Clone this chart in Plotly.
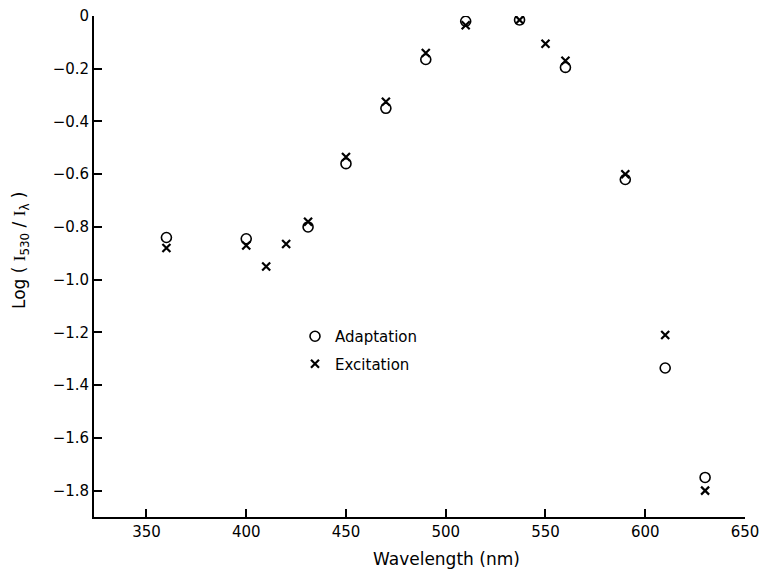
import plotly.graph_objects as go

# Data
wavelength_adapt = [360, 400, 431, 450, 470, 490, 510, 537, 560, 590, 610, 630]
log_adapt = [-0.84, -0.845, -0.80, -0.56, -0.35, -0.165, -0.02, -0.015, -0.195, -0.62, -1.335, -1.75]

wavelength_excit = [360, 400, 410, 420, 431, 450, 470, 490, 510, 537, 550, 560, 590, 610, 630]
log_excit = [-0.88, -0.87, -0.95, -0.865, -0.78, -0.535, -0.325, -0.14, -0.035, -0.015, -0.105, -0.17, -0.60, -1.21, -1.80]

x_ticks = [350, 400, 450, 500, 550, 600, 650]
y_ticks = [0, -0.2, -0.4, -0.6, -0.8, -1.0, -1.2, -1.4, -1.6, -1.8]
y_ticktext = ["0", "\u22120.2", "\u22120.4", "\u22120.6", "\u22120.8", "\u22121.0",
              "\u22121.2", "\u22121.4", "\u22121.6", "\u22121.8"]

FONT = "DejaVu Sans"
SERIF_I = "<span style='font-family:Liberation Serif'>I</span>"

fig = go.Figure()
fig.add_trace(go.Scatter(
    x=wavelength_adapt, y=log_adapt, mode="markers", name="Adaptation",
    legendgroup="a",
    marker=dict(symbol="circle-open", size=10, color="black", line=dict(width=1.6, color="black")),
))
fig.add_trace(go.Scatter(
    x=wavelength_excit, y=log_excit, mode="markers", name="Excitation",
    legendgroup="e",
    marker=dict(symbol="x-thin", size=8, color="black", line=dict(width=2.2, color="black")),
))

W, H = 765, 572
ml, mr, mt, mb = 94, 20, 16, 55
PW, PH = W - ml - mr, H - mt - mb

fig.update_layout(
    width=W, height=H,
    margin=dict(l=ml, r=mr, t=mt, b=mb, autoexpand=False),
    paper_bgcolor="white", plot_bgcolor="white",
    font=dict(family=FONT, size=15, color="black"),
    showlegend=True,
    legend=dict(
        x=(295 - ml) / PW, y=1 - (320 - mt) / PH,
        xanchor="left", yanchor="top",
        bgcolor="rgba(0,0,0,0)", borderwidth=0,
        font=dict(family=FONT, size=15, color="black"),
        tracegroupgap=5, itemwidth=30,
    ),
    xaxis=dict(
        range=[323.7, 650], tickvals=x_ticks,
        ticks="inside", ticklen=8, tickwidth=1.5, tickcolor="black",
        showline=True, linecolor="black", linewidth=1.8,
        showgrid=False, zeroline=False, automargin=False,
        tickfont=dict(family=FONT, size=15),
    ),
    yaxis=dict(
        range=[-1.9, 0], tickvals=y_ticks, ticktext=y_ticktext,
        ticks="inside", ticklen=8, tickwidth=1.5, tickcolor="black",
        showline=True, linecolor="black", linewidth=1.8,
        showgrid=False, zeroline=False, automargin=False,
        tickfont=dict(family=FONT, size=15),
    ),
    annotations=[
        dict(text="Wavelength (nm)", xref="paper", yref="paper",
             x=(447 - ml) / PW, y=-(559 - (H - mb)) / PH,
             xanchor="center", yanchor="middle", showarrow=False,
             font=dict(family=FONT, size=17)),
        dict(text="Log ( " + SERIF_I + "<sub>530</sub> / " + SERIF_I + "<sub>\u03bb</sub> )",
             xref="paper", yref="paper",
             x=-(ml - 20) / PW, y=1 - (250 - mt) / PH,
             xanchor="center", yanchor="middle", textangle=-90, showarrow=False,
             font=dict(family=FONT, size=17)),
    ],
)

fig.write_html("out.html", post_script="document.body.style.margin='0';",
               config={"displayModeBar": False})
